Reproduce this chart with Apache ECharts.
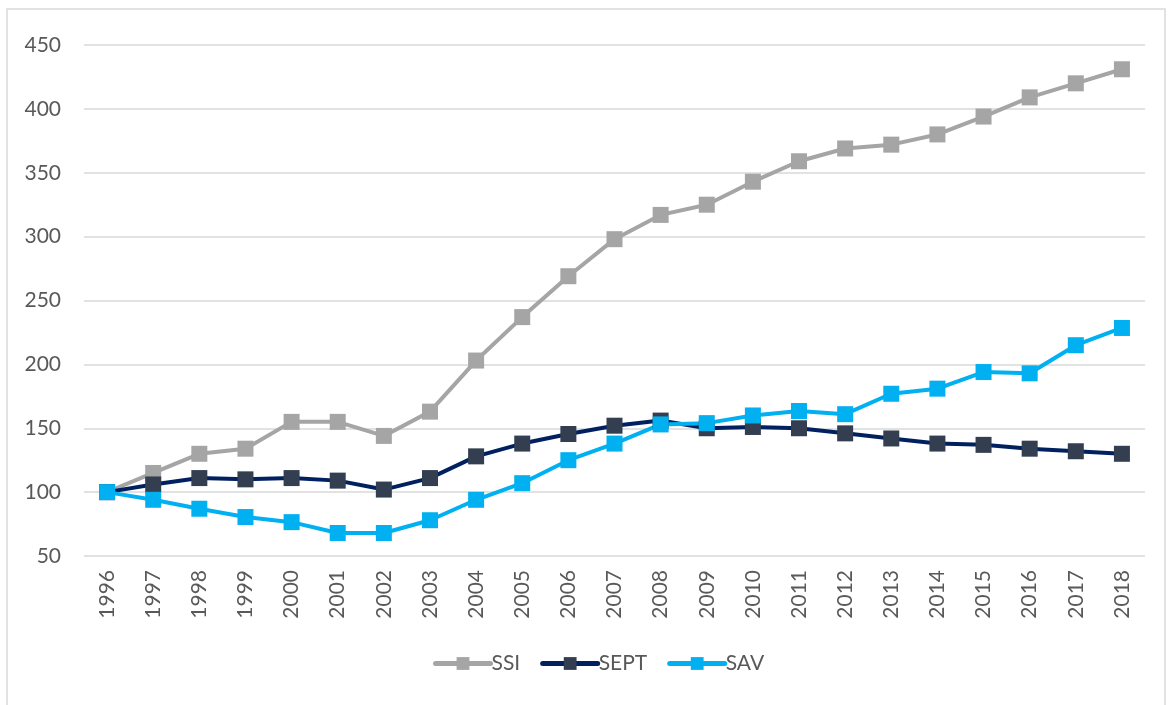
<!DOCTYPE html>
<html>
<head>
<meta charset="utf-8">
<script src="https://cdn.jsdelivr.net/npm/echarts@6/dist/echarts.min.js"></script>
<style>
  html, body { margin: 0; padding: 0; background: #fff; }
  #chart { width: 1172px; height: 705px; }
</style>
</head>
<body>
<div id="chart"></div>
<script>
// categories
const years = ['1996', '1997', '1998', '1999', '2000', '2001', '2002', '2003', '2004', '2005', '2006', '2007',
  '2008', '2009', '2010', '2011', '2012', '2013', '2014', '2015', '2016', '2017', '2018'];
// series values
const ssi = [100, 115, 130, 134, 155, 155, 144, 163, 203, 237, 269, 298, 317, 325, 343, 359, 369, 372, 380, 394, 409, 420, 431];
const sept = [100, 106, 111, 110, 111, 109, 102, 111, 128, 138, 145.5, 152, 156, 150, 151, 150, 146, 142, 138, 137, 134, 132, 130];
const sav = [100, 94, 87, 80.5, 76.5, 68, 68, 78, 94, 107, 125, 138, 153, 154, 160, 163.5, 161, 177, 181, 194, 193, 215, 228.5];
const yTicks = [50, 450, 50]; // min, max, interval

const txt = '#595959';
const font = 'Lato, "Open Sans", sans-serif';

function lineSeries (name, data, lineColor, markColor) {
  return {
    name: name,
    type: 'line',
    data: data,
    symbol: 'rect',
    symbolSize: 16,
    lineStyle: { color: lineColor, width: 4 },
    itemStyle: { color: markColor },
    emphasis: { disabled: true },
    animation: false
  };
}

const myChart = echarts.init(document.getElementById('chart'));
myChart.setOption({
  backgroundColor: '#fff',
  textStyle: { fontFamily: font },
  graphic: [{
    type: 'rect',
    shape: { x: 7, y: 9, width: 1158, height: 710 },
    style: { fill: 'none', stroke: '#d9d9d9', lineWidth: 1.5 },
    silent: true
  }],
  grid: { left: 84, right: 27, top: 45, bottom: 149 },
  legend: {
    bottom: 26,
    left: 428,
    itemWidth: 55,
    itemHeight: 16,
    itemGap: 20,
    lineStyle: { width: 5, cap: 'round' },
    textStyle: { color: txt, fontSize: 21, fontFamily: font, padding: [0, 0, 0, -4] },
    data: ['SSI', 'SEPT', 'SAV']
  },
  xAxis: {
    type: 'category',
    data: years,
    boundaryGap: true,
    axisLine: { show: false },
    axisTick: { show: false },
    axisLabel: { rotate: 90, color: txt, fontSize: 21, fontFamily: font, margin: 14 }
  },
  yAxis: {
    type: 'value',
    min: yTicks[0],
    max: yTicks[1],
    interval: yTicks[2],
    axisLine: { show: false },
    axisTick: { show: false },
    axisLabel: { color: txt, fontSize: 21, fontFamily: font, margin: 23 },
    splitLine: { lineStyle: { color: '#d9d9d9', width: 1.5 } }
  },
  series: [
    lineSeries('SSI', ssi, '#a5a5a5', '#a5a5a5'),
    lineSeries('SEPT', sept, '#002060', '#333f50'),
    lineSeries('SAV', sav, '#00b0f0', '#00b0f0')
  ]
});
</script>
</body>
</html>
